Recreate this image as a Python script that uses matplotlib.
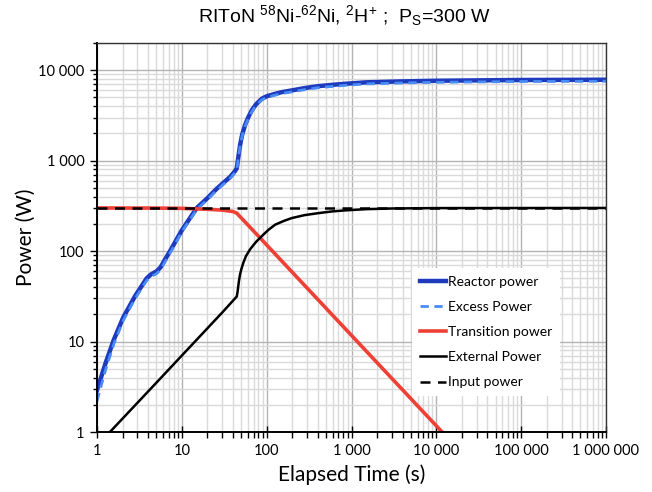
import matplotlib
matplotlib.use("Agg")
import matplotlib.pyplot as plt
from matplotlib.ticker import FuncFormatter, LogLocator, NullFormatter

# ---- data ----
reactor_t = [1, 1.26, 1.58, 2.04, 2.82, 3.85, 4.3, 5.06, 5.6, 6.3, 7.26, 8.5, 10, 12, 15,
             20, 25.8, 32.3, 37, 42, 44.4, 46.5, 48.6, 51.5, 55.6, 60, 66.7, 75, 87.5,
             100, 126, 150, 198, 280, 407, 600, 841, 1500, 3740, 10000, 100000, 1000000]
reactor_p = [2.9, 5.75, 10.5, 18.5, 32, 50, 55, 60, 66, 80, 100, 130, 170, 220, 300,
             385, 490, 590, 660, 760, 823, 1120, 1490, 1950, 2470, 2950, 3600, 4200, 4840,
             5150, 5490, 5720, 5980, 6350, 6670, 6900, 7080, 7350, 7520, 7650, 7800, 7850]

excess_t = reactor_t
excess_p = [2.2, 4.85, 9.4, 17.1, 30, 47.3, 52, 56.5, 62, 75.5, 95, 124, 163, 211, 289,
            371, 472, 567, 634, 730, 792, 1087, 1440, 1880, 2390, 2850, 3480, 4070, 4700,
            4990, 5300, 5520, 5750, 6100, 6410, 6620, 6800, 7060, 7220, 7350, 7500, 7550]

transition_t = [1, 5, 10, 20, 30, 40, 44.4, 100, 1000, 10000, 15000]
transition_p = [300, 299, 297, 290, 284, 274, 263, 117, 11.7, 1.17, 0.78]

external_t = [1, 1.42, 5, 10, 20, 30, 42.4, 44.4, 45.5, 47, 48.5, 50.5, 53, 57, 63.5,
              70, 76.4, 90, 105, 126, 160, 198, 280, 407, 600, 841, 1500, 3000, 10000,
              1000000]
external_p = [0.7, 1, 3.5, 7, 14, 21, 30, 31.5, 36, 46, 55, 64, 74, 88, 104,
              117, 129, 150, 172, 196, 216, 232, 250, 263, 275, 282, 291, 296, 299,
              300]

input_t = [1, 1000000]
input_p = [300, 300]

labels = ["Reactor power", "Excess Power", "Transition power", "External Power",
          "Input power"]

plt.rcParams['mathtext.fontset'] = 'custom'
plt.rcParams['mathtext.rm'] = 'Liberation Sans'
plt.rcParams['mathtext.it'] = 'Liberation Sans'

fig = plt.figure(figsize=(6.52, 4.92), dpi=100)
ax = fig.add_axes([97/652, 60/492, (606-97)/652, (432-43)/492])

ax.set_xscale('log')
ax.set_yscale('log')
ax.set_xlim(1, 1e6)
ax.set_ylim(1, 20000)

ax.grid(True, which='major', color='#b4b4b4', linewidth=1.0, zorder=0)
ax.grid(True, which='minor', color='#dadada', linewidth=1.0, zorder=0)
ax.set_axisbelow(True)

h1, = ax.plot(reactor_t, reactor_p, color='#1f3bbd', lw=3.2, solid_joinstyle='round')
h2, = ax.plot(excess_t, excess_p, color='#4a8cf5', lw=2.0, ls=(0, (3, 2)))
h3, = ax.plot(transition_t, transition_p, color='#ee4035', lw=2.6)
h4, = ax.plot(external_t, external_p, color='black', lw=1.8)
h5, = ax.plot(input_t, input_p, color='black', lw=1.8, ls=(0, (4, 3)))

fmt = FuncFormatter(lambda v, p: f"{v:,.0f}".replace(",", " "))
ax.xaxis.set_major_formatter(fmt)
ax.yaxis.set_major_formatter(fmt)
ax.xaxis.set_major_locator(LogLocator(base=10, numticks=10))
ax.yaxis.set_major_locator(LogLocator(base=10, numticks=10))
ax.xaxis.set_minor_locator(LogLocator(base=10, subs=range(2, 10), numticks=20))
ax.yaxis.set_minor_locator(LogLocator(base=10, subs=range(2, 10), numticks=20))
ax.xaxis.set_minor_formatter(NullFormatter())
ax.yaxis.set_minor_formatter(NullFormatter())

ax.tick_params(axis='x', which='major', direction='inout', length=9, width=1, labelsize=10.5, pad=4)
ax.tick_params(axis='x', which='minor', direction='out', length=4, width=1)
ax.tick_params(axis='y', which='major', direction='out', length=5, width=1, labelsize=10.5, pad=4)
ax.tick_params(axis='y', which='minor', direction='out', length=3, width=1)
for lab in ax.get_xticklabels() + ax.get_yticklabels():
    lab.set_fontfamily('Lato')

for s in ['left', 'bottom']:
    ax.spines[s].set_color('black')
    ax.spines[s].set_linewidth(1.4)
for s in ['top', 'right']:
    ax.spines[s].set_color('#333333')
    ax.spines[s].set_linewidth(1.0)

ax.set_xlabel("Elapsed Time (s)", fontsize=15, family='Lato', labelpad=5)
ax.set_ylabel("Power (W)", fontsize=15, family='Lato', labelpad=2)

fig.text(0.528, 0.968,
         r"RIToN $^{58}$Ni-$^{62}$Ni, $^{2}$H$^{+}$ ;  P$_{S}$=300 W",
         ha='center', va='center', fontsize=14, family='Liberation Sans')

leg = ax.legend([h1, h2, h3, h4, h5], labels,
                loc='upper left', bbox_to_anchor=(412/652, 1 - 268/492),
                bbox_transform=fig.transFigure,
                prop={'family': 'Lato', 'size': 10},
                handlelength=1.9, handletextpad=0.15, labelspacing=0.95,
                borderpad=0.55, borderaxespad=0, fancybox=False, framealpha=1,
                edgecolor='none', facecolor='white')

fig.savefig("out.png", dpi=100)
